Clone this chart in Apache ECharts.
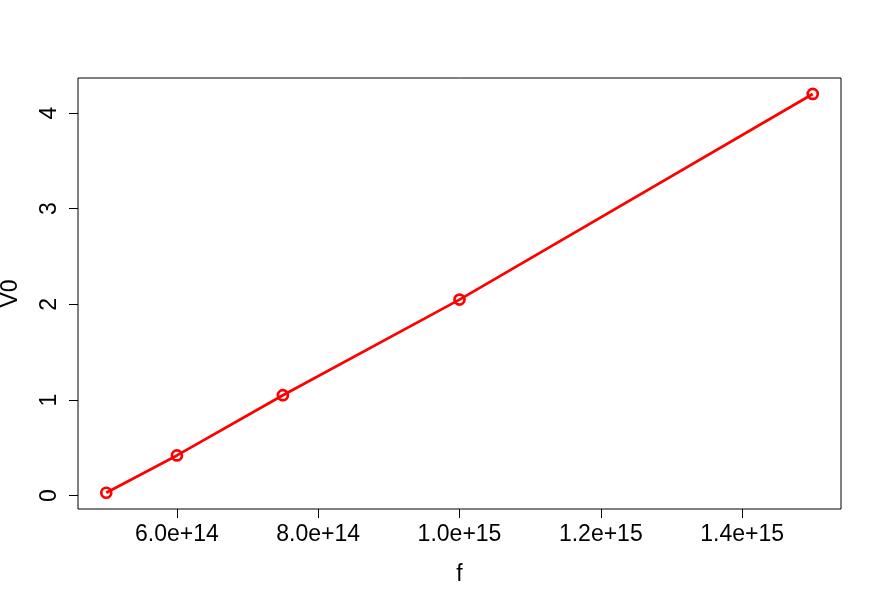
<!DOCTYPE html>
<html>
<head>
<meta charset="utf-8">
<script src="https://cdn.jsdelivr.net/npm/echarts@6/dist/echarts.min.js"></script>
<style>
  html, body { margin: 0; padding: 0; background: #fff; }
  #chart { width: 882px; height: 607px; }
</style>
</head>
<body>
<div id="chart"></div>
<script>
// frequency (Hz) and stopping voltage V0 (V)
const freq = [5.0e14, 6.0e14, 7.5e14, 1.0e15, 1.5e15]
const v0 = [0.03, 0.42, 1.05, 2.05, 4.2]

const xTicks = [6.0e14, 8.0e14, 1.0e15, 1.2e15, 1.4e15]
const xTickLabels = ['6.0e+14', '8.0e+14', '1.0e+15', '1.2e+15', '1.4e+15']
const yTicks = [0, 1, 2, 3, 4]
const yTickLabels = ['0', '1', '2', '3', '4']

const font = 'Liberation Sans, Arial, sans-serif'

const chart = echarts.init(document.getElementById('chart'))

chart.setOption({
  animation: false,
  backgroundColor: '#fff',
  grid: {
    left: 78,
    right: 41,
    top: 78,
    bottom: 98,
    outerBoundsMode: 'none',
    containLabel: false,
    show: true,
    borderColor: '#000',
    borderWidth: 1,
    backgroundColor: 'transparent',
  },
  xAxis: {
    type: 'value',
    min: 4.6e14,
    max: 1.54e15,
    name: 'f',
    nameLocation: 'middle',
    nameGap: 54,
    nameTextStyle: { fontFamily: font, fontSize: 23, color: '#000' },
    axisLine: { show: false, onZero: false },
    splitLine: { show: false },
    axisTick: {
      show: true,
      inside: false,
      length: 9,
      customValues: xTicks,
      lineStyle: { color: '#000', width: 1 },
    },
    axisLabel: {
      customValues: xTicks,
      margin: 14,
      fontFamily: font,
      fontSize: 23,
      color: '#000',
      formatter: (v) => {
        const i = xTicks.findIndex(t => Math.abs(t - v) < 1e10)
        return i >= 0 ? xTickLabels[i] : ''
      },
    },
  },
  yAxis: {
    type: 'value',
    min: -0.14,
    max: 4.367,
    name: 'V0',
    nameLocation: 'middle',
    nameGap: 56,
    nameTextStyle: { fontFamily: font, fontSize: 23, color: '#000' },
    axisLine: { show: false, onZero: false },
    splitLine: { show: false },
    axisTick: {
      show: true,
      inside: false,
      length: 9,
      customValues: yTicks,
      lineStyle: { color: '#000', width: 1 },
    },
    axisLabel: {
      customValues: yTicks,
      rotate: 90,
      margin: 17,
      fontFamily: font,
      fontSize: 23,
      color: '#000',
      formatter: (v) => {
        const i = yTicks.findIndex(t => Math.abs(t - v) < 1e-6)
        return i >= 0 ? yTickLabels[i] : ''
      },
    },
  },
  series: [
    {
      type: 'line',
      data: freq.map((f, i) => [f, v0[i]]),
      symbol: 'circle',
      symbolSize: 10,
      showAllSymbol: true,
      lineStyle: { color: '#ff0000', width: 2.7 },
      itemStyle: {
        color: 'transparent',
        borderColor: '#ff0000',
        borderWidth: 2.7,
      },
      z: 3,
    },
  ],
})
</script>
</body>
</html>
